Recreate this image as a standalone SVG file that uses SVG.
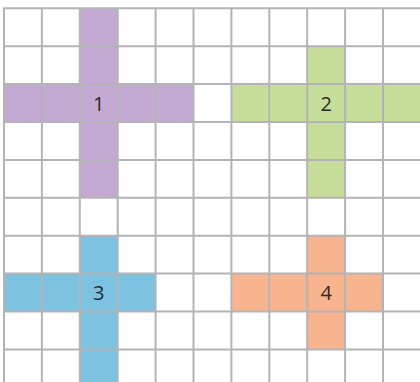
<svg xmlns="http://www.w3.org/2000/svg" width="420" height="382" viewBox="0 0 420 382">
<style>
.g{stroke:#b4b4b6;stroke-width:2;fill:none}
.t{font-family:"Open Sans","Liberation Sans",sans-serif;font-size:20px;fill:#2a2a2a;text-anchor:middle}
</style>
<rect width="420" height="382" fill="#fff"/>
<g id="cross1" fill="#c4a9d3">
<rect x="79.8" y="8.3" width="37.9" height="189.5"/>
<rect x="4" y="84.1" width="189.5" height="37.9"/>
</g>
<g id="cross2" fill="#c6de9a">
<rect x="307.2" y="46.2" width="37.9" height="151.6"/>
<rect x="231.4" y="84.1" width="189" height="37.9"/>
</g>
<g id="cross3" fill="#7cc3e2">
<rect x="79.8" y="235.7" width="37.9" height="147"/>
<rect x="4" y="273.6" width="151.6" height="37.9"/>
</g>
<g id="cross4" fill="#f8b58d">
<rect x="307.2" y="235.7" width="37.9" height="113.7"/>
<rect x="231.4" y="273.6" width="151.6" height="37.9"/>
</g>
<path class="g" d="M4 8.3V382M41.9 8.3V382M79.8 8.3V382M117.7 8.3V382M155.6 8.3V382M193.5 8.3V382M231.4 8.3V382M269.3 8.3V382M307.2 8.3V382M345.1 8.3V382M383 8.3V382M3 8.3H420M3 46.2H420M3 84.1H420M3 122H420M3 159.9H420M3 197.8H420M3 235.7H420M3 273.6H420M3 311.5H420M3 349.4H420"/>
<g id="labels">
<text class="t" x="98.8" y="110.5">1</text>
<text class="t" x="326.2" y="110.5">2</text>
<text class="t" x="98.8" y="300">3</text>
<text class="t" x="326.2" y="300">4</text>
</g>
</svg>
